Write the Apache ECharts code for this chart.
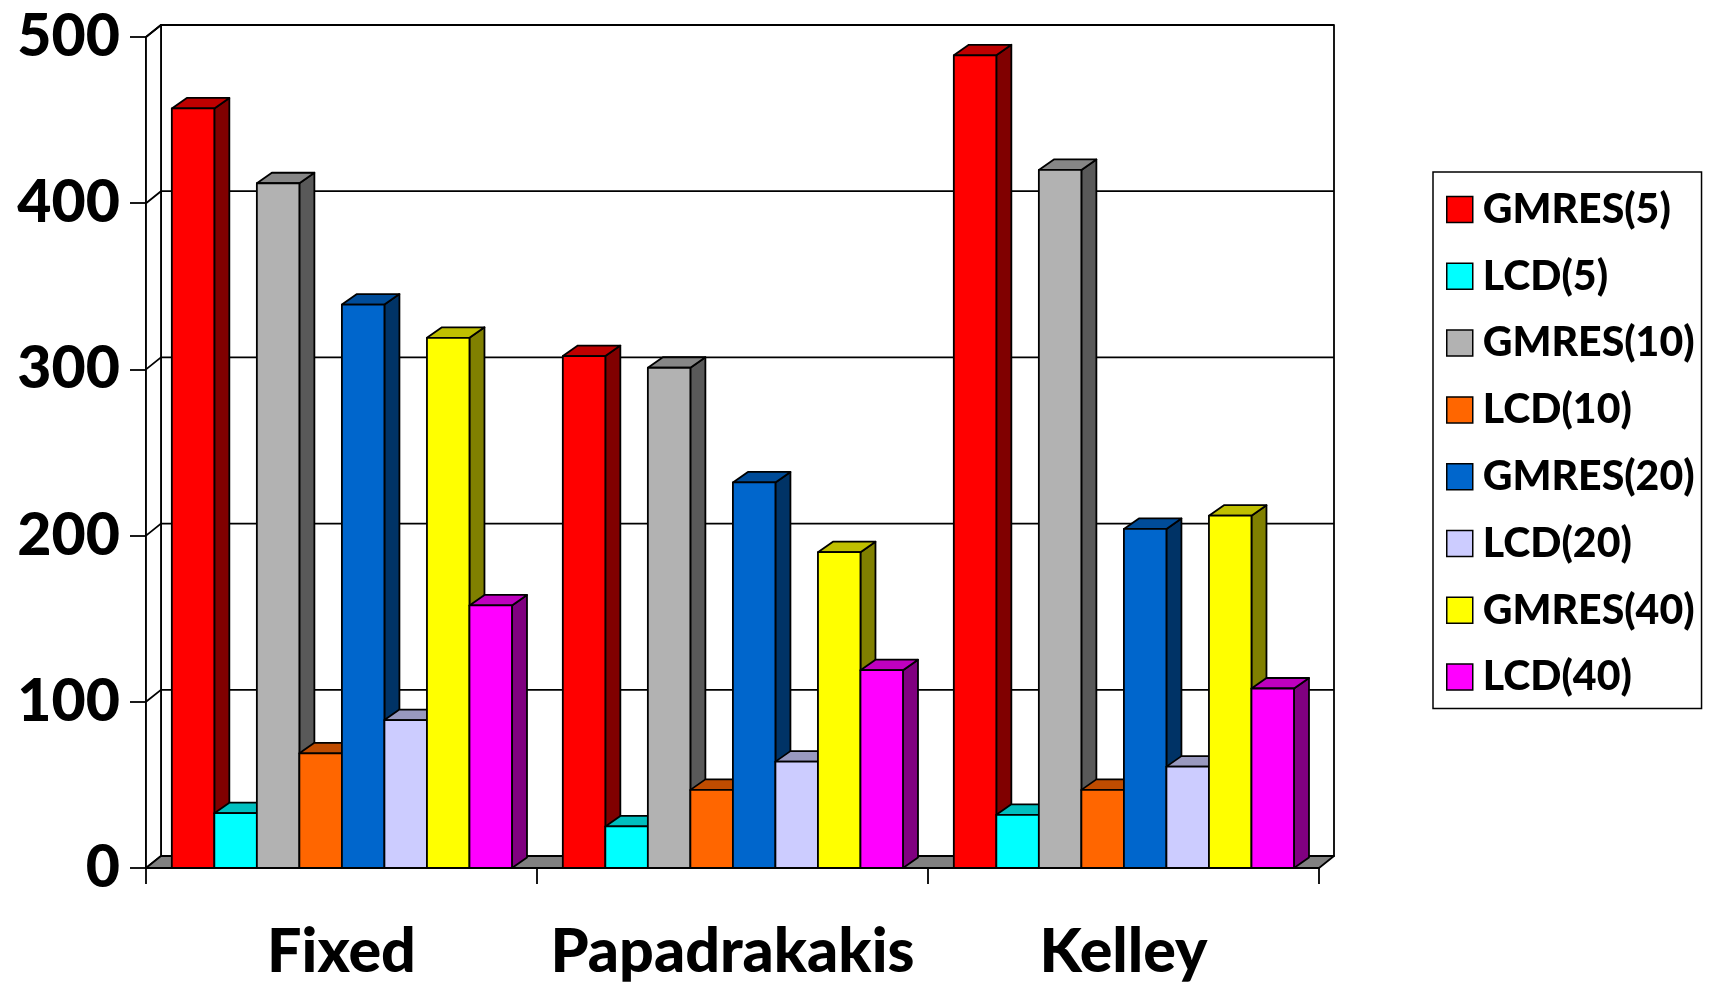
<!DOCTYPE html>
<html>
<head>
<meta charset="utf-8">
<style>html,body{margin:0;padding:0;background:#fff}#chart{width:1710px;height:984px}</style>
<script src="https://cdn.jsdelivr.net/npm/echarts@6/dist/echarts.min.js"></script>
</head>
<body>
<div id="chart"></div>
<script>
// Iteration counts per restart method, grouped by forcing-term strategy.
const categories = ['Fixed', 'Papadrakakis', 'Kelley'];
const gmres5  = [457, 308, 489];
const lcd5    = [33, 25, 32];
const gmres10 = [412, 301, 420];
const lcd10   = [69, 47, 47];
const gmres20 = [339, 232, 204];
const lcd20   = [89, 64, 61];
const gmres40 = [319, 190, 212];
const lcd40   = [158, 119, 108];
const seriesNames = ['GMRES(5)', 'LCD(5)', 'GMRES(10)', 'LCD(10)', 'GMRES(20)', 'LCD(20)', 'GMRES(40)', 'LCD(40)'];
const seriesValues = [gmres5, lcd5, gmres10, lcd10, gmres20, lcd20, gmres40, lcd40];
// Front, top and side face shades of each bar.
const frontColors = ['#FF0000', '#00FFFF', '#B2B2B2', '#FF6600', '#0066CC', '#CCCCFF', '#FFFF00', '#FF00FF'];
const topColors   = ['#BF0000', '#00BFBF', '#868686', '#BF4C00', '#004C99', '#9999BF', '#BFBF00', '#BF00BF'];
const sideColors  = ['#800000', '#008080', '#595959', '#803300', '#003366', '#666680', '#808000', '#800080'];
const yTicks = [0, 100, 200, 300, 400, 500];

const FONT = 'Lato';
const LINE = '#000';
const LW = 1.8;
// Offset of the back of the box from its front, in pixels.
const DX = 15, DY = -12;
const BAR_DX = 15, BAR_DY = -10.5;
const BAR_SHARE = 0.87;   // part of a category band covered by its eight bars
const BAR_SHIFT = 0.4;

const lineStyle = {stroke: LINE, lineWidth: LW, fill: null};

function poly(points, fill) {
  return {type: 'polygon', shape: {points}, style: {fill, stroke: LINE, lineWidth: LW, lineJoin: 'round'}};
}

// Back wall, side wall, floor and the gridlines that wrap around them.
function renderFrame(params, api) {
  const left = api.coord([0, 0])[0] - api.size([1, 0])[0] / 2;
  const right = left + api.size([1, 0])[0] * categories.length;
  const y0 = api.coord([0, 0])[1];
  const yTop = api.coord([0, yTicks[yTicks.length - 1]])[1];
  const kids = [
    poly([[left + DX, yTop + DY], [right + DX, yTop + DY], [right + DX, y0 + DY], [left + DX, y0 + DY]], '#fff'),
    poly([[left, y0], [left, yTop], [left + DX, yTop + DY], [left + DX, y0 + DY]], '#fff'),
    poly([[left, y0], [left + DX, y0 + DY], [right + DX, y0 + DY], [right, y0]], '#808080')
  ];
  yTicks.slice(1).forEach(v => {
    const y = api.coord([0, v])[1];
    kids.push({type: 'polyline', shape: {points: [[left, y], [left + DX, y + DY], [right + DX, y + DY]]}, style: lineStyle});
  });
  return {type: 'group', children: kids};
}

function renderBar(params, api) {
  const s = params.seriesIndex - 1;
  const top = api.coord([api.value(0), api.value(1)]);
  const base = api.coord([api.value(0), 0]);
  const band = api.size([1, 0])[0];
  const w = band * BAR_SHARE / seriesNames.length;
  const x0 = top[0] + BAR_SHIFT - band * BAR_SHARE / 2 + s * w;
  const x1 = x0 + w;
  return {type: 'group', children: [
    poly([[x1, base[1]], [x1, top[1]], [x1 + BAR_DX, top[1] + BAR_DY], [x1 + BAR_DX, base[1] + BAR_DY]], sideColors[s]),
    poly([[x0, top[1]], [x0 + BAR_DX, top[1] + BAR_DY], [x1 + BAR_DX, top[1] + BAR_DY], [x1, top[1]]], topColors[s]),
    poly([[x0, base[1]], [x0, top[1]], [x1, top[1]], [x1, base[1]]], frontColors[s])
  ]};
}

const series = [{
  type: 'custom', name: 'frame', silent: true, z: 1,
  renderItem: renderFrame, data: [[0, 0]], encode: {x: 0, y: 1}, clip: false
}].concat(seriesNames.map((name, i) => ({
  type: 'custom', name, z: 2 + i, clip: false,
  itemStyle: {color: frontColors[i]},
  renderItem: renderBar, encode: {x: 0, y: 1},
  data: categories.map((c, k) => [k, seriesValues[i][k]])
})));

const chart = echarts.init(document.getElementById('chart'), null, {renderer: 'canvas'});
chart.setOption({
  animation: false,
  backgroundColor: '#fff',
  grid: {left: 146, top: 37, width: 1173, height: 831, containLabel: false},
  xAxis: {
    type: 'category', data: categories,
    axisLine: {lineStyle: {color: LINE, width: LW}},
    axisTick: {show: true, alignWithLabel: false, length: 16, lineStyle: {color: LINE, width: LW}},
    axisLabel: {color: '#000', fontFamily: FONT, fontWeight: 900, fontSize: 61, margin: 54, interval: 0}
  },
  yAxis: {
    type: 'value', min: 0, max: 500, interval: 100,
    axisLine: {show: true, lineStyle: {color: LINE, width: LW}},
    axisTick: {show: true, length: 16, lineStyle: {color: LINE, width: LW}},
    axisLabel: {color: '#000', fontFamily: FONT, fontWeight: 900, fontSize: 59, margin: 26},
    splitLine: {show: false}
  },
  legend: {
    data: seriesNames, orient: 'vertical', left: 1433, top: 172,
    icon: 'rect', itemWidth: 26, itemHeight: 26, itemGap: 25.8,
    padding: [17, 7, 11, 13],
    backgroundColor: '#fff', borderColor: LINE, borderWidth: 1.5,
    itemStyle: {borderColor: LINE, borderWidth: 1.5},
    selectedMode: false,
    textStyle: {color: '#000', fontFamily: FONT, fontWeight: 900, fontSize: 41, lineHeight: 26, padding: [0, 0, 0, 5]}
  },
  series
});
</script>
</body>
</html>
